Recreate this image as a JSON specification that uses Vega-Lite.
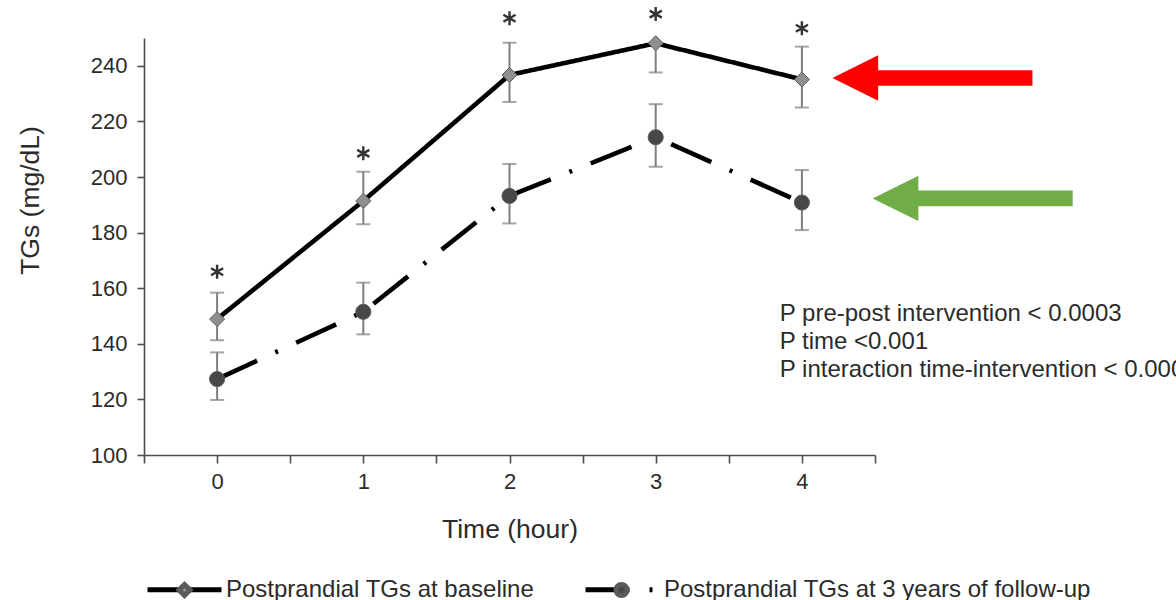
{
  "$schema": "https://vega.github.io/schema/vega-lite/v6.json",
  "width": 731,
  "height": 417,
  "autosize": {"type": "none"},
  "padding": {"left": 144, "top": 38, "right": 301, "bottom": 145},
  "background": "white",
  "config": {
    "view": {"stroke": null},
    "font": "Liberation Sans",
    "axis": {"grid": false, "domainColor": "#4d4d4d", "domainWidth": 1.6, "tickColor": "#4d4d4d", "tickWidth": 1.6, "labelColor": "#2b2b2b", "titleColor": "#2b2b2b", "labelFont": "Liberation Sans", "titleFont": "Liberation Sans", "titleFontWeight": "normal"}
  },
  "datasets": {
    "tg": [
      {"time": 0, "series": "baseline", "mean": 148.9, "lo": 141.3, "hi": 158.4},
      {"time": 1, "series": "baseline", "mean": 191.4, "lo": 183.0, "hi": 201.9},
      {"time": 2, "series": "baseline", "mean": 236.7, "lo": 227.0, "hi": 248.3},
      {"time": 3, "series": "baseline", "mean": 248.1, "lo": 237.6, "hi": 248.1},
      {"time": 4, "series": "baseline", "mean": 235.1, "lo": 225.0, "hi": 246.9},
      {"time": 0, "series": "followup", "mean": 127.3, "lo": 119.8, "hi": 136.9},
      {"time": 1, "series": "followup", "mean": 151.5, "lo": 143.4, "hi": 162.0},
      {"time": 2, "series": "followup", "mean": 193.2, "lo": 183.3, "hi": 204.7},
      {"time": 3, "series": "followup", "mean": 214.3, "lo": 203.7, "hi": 226.2},
      {"time": 4, "series": "followup", "mean": 190.8, "lo": 180.9, "hi": 202.5}
    ],
    "sig": [
      {"time": 0, "y": 165.9},
      {"time": 1, "y": 208.5},
      {"time": 2, "y": 257.1},
      {"time": 3, "y": 258.6},
      {"time": 4, "y": 253.5}
    ],
    "arrows": [
      {"arrow": "upper", "time": 4.893, "y": 235.6},
      {"arrow": "lower", "time": 5.168, "y": 192.3}
    ],
    "note": [
      {"time": 3.849, "y": 148.2, "text": "P pre-post intervention < 0.0003\nP time <0.001\nP interaction time-intervention < 0.0001"}
    ]
  },
  "layer": [
    {
      "data": {"name": "tg"},
      "mark": {"type": "errorbar", "rule": {"color": "#7f7f7f", "strokeWidth": 2}, "ticks": {"color": "#7f7f7f", "size": 14, "thickness": 2}},
      "encoding": {
        "x": {"field": "time", "type": "quantitative", "title": "Time (hour)"},
        "y": {"field": "lo", "type": "quantitative", "title": "TGs (mg/dL)"},
        "y2": {"field": "hi"}
      }
    },
    {
      "data": {"name": "tg"},
      "mark": {"type": "line", "color": "black", "strokeWidth": 4.6},
      "encoding": {
        "x": {"field": "time", "type": "quantitative", "title": "Time (hour)", "scale": {"domain": [-0.5, 4.5], "nice": false, "zero": false},
              "axis": {"title": "Time (hour)", "values": [-0.5, 0, 0.5, 1, 1.5, 2, 2.5, 3, 3.5, 4, 4.5], "labelExpr": "datum.value % 1 === 0 ? format(datum.value, 'd') : ''", "labelFontSize": 22, "tickSize": 8, "labelPadding": 8, "titleFontSize": 26.5, "titleBaseline": "alphabetic", "titleY": 82}},
        "y": {"field": "mean", "type": "quantitative", "title": "TGs (mg/dL)", "scale": {"domain": [100, 250], "nice": false, "zero": false},
              "axis": {"title": "TGs (mg/dL)", "values": [100, 120, 140, 160, 180, 200, 220, 240], "labelFontSize": 22, "tickSize": 7, "labelPadding": 10, "titleFontSize": 26.5, "titleAngle": 270, "titleAlign": "center", "titleBaseline": "middle", "titleX": -114, "titleY": 162}},
        "strokeDash": {"field": "series", "type": "nominal",
          "scale": {"domain": ["baseline", "followup"], "range": [[1, 0], [44, 20, 3, 20]]},
          "legend": {"orient": "none", "legendX": 1, "legendY": 512, "direction": "horizontal", "title": null, "symbolType": "stroke", "symbolSize": 5476, "symbolStrokeWidth": 5, "symbolStrokeColor": "black", "labelFontSize": 24, "labelColor": "#2b2b2b", "labelOffset": 2, "columnPadding": 40, "padding": 0, "labelLimit": 0,
            "labelExpr": "datum.value === 'baseline' ? 'Postprandial TGs at baseline' : 'Postprandial TGs at 3 years of follow-up'"}}
      }
    },
    {
      "data": {"name": "tg"},
      "mark": {"type": "point", "filled": true, "size": 10140, "stroke": "#5a5a5a", "strokeWidth": 1, "opacity": 1},
      "encoding": {
        "x": {"field": "time", "type": "quantitative", "title": "Time (hour)"},
        "y": {"field": "mean", "type": "quantitative", "title": "TGs (mg/dL)"},
        "shape": {"field": "series", "type": "nominal",
          "scale": {"range": ["M0,-0.149L0.149,0L0,0.149L-0.149,0Z", "M-0.149,0A0.149,0.149,0,1,0,0.149,0A0.149,0.149,0,1,0,-0.149,0Z"]},
          "legend": {"orient": "none", "legendX": 1, "legendY": 512, "direction": "horizontal", "title": null, "symbolSize": 5476, "symbolStrokeWidth": 5, "labelFontSize": 24, "labelOpacity": 0, "labelOffset": 2, "columnPadding": 47, "padding": 0, "labelLimit": 0,
            "labelExpr": "datum.value === 'baseline' ? 'Postprandial TGs at baseline' : 'Postprandial TGs at 3 years of follow-up'",
            "encode": {"symbols": {"update": {"strokeWidth": {"value": 1}, "stroke": {"value": "#5a5a5a"}}}}}},
        "fill": {"field": "series", "type": "nominal",
          "scale": {"range": ["#8f8f8f", "#474747"]},
          "legend": {"orient": "none", "legendX": 1, "legendY": 512, "direction": "horizontal", "title": null, "symbolSize": 5476, "symbolStrokeWidth": 5, "labelFontSize": 24, "labelOpacity": 0, "labelOffset": 2, "columnPadding": 47, "padding": 0, "labelLimit": 0,
            "labelExpr": "datum.value === 'baseline' ? 'Postprandial TGs at baseline' : 'Postprandial TGs at 3 years of follow-up'",
            "encode": {"symbols": {"update": {"strokeWidth": {"value": 1}, "stroke": {"value": "#5a5a5a"}}}}}}
      }
    },
    {
      "data": {"name": "sig"},
      "mark": {"type": "point", "filled": false, "shape": "M0,-1L0,1M-0.866,-0.5L0.866,0.5M-0.866,0.5L0.866,-0.5", "size": 196, "stroke": "#333333", "strokeWidth": 2.4, "opacity": 1},
      "encoding": {
        "x": {"field": "time", "type": "quantitative", "title": "Time (hour)"},
        "y": {"field": "y", "type": "quantitative", "title": "TGs (mg/dL)"}
      }
    },
    {
      "data": {"name": "note"},
      "mark": {"type": "text", "align": "left", "baseline": "alphabetic", "lineBreak": "\n", "lineHeight": 28, "fontSize": 24, "color": "#2b2b2b", "font": "Liberation Sans"},
      "encoding": {
        "x": {"field": "time", "type": "quantitative", "title": "Time (hour)"},
        "y": {"field": "y", "type": "quantitative", "title": "TGs (mg/dL)"},
        "text": {"field": "text"}
      }
    },
    {
      "data": {"name": "arrows"},
      "mark": {"type": "point", "filled": true, "shape": "M-1,0L-0.543,-0.227L-0.543,-0.078L1,-0.078L1,0.078L-0.543,0.078L-0.543,0.227Z", "size": 40000, "opacity": 1, "strokeWidth": 0},
      "encoding": {
        "x": {"field": "time", "type": "quantitative", "title": "Time (hour)"},
        "y": {"field": "y", "type": "quantitative", "title": "TGs (mg/dL)"},
        "color": {"field": "arrow", "type": "nominal", "scale": {"domain": ["upper", "lower"], "range": ["#ff0000", "#70ad47"]}, "legend": null}
      }
    }
  ]
}
